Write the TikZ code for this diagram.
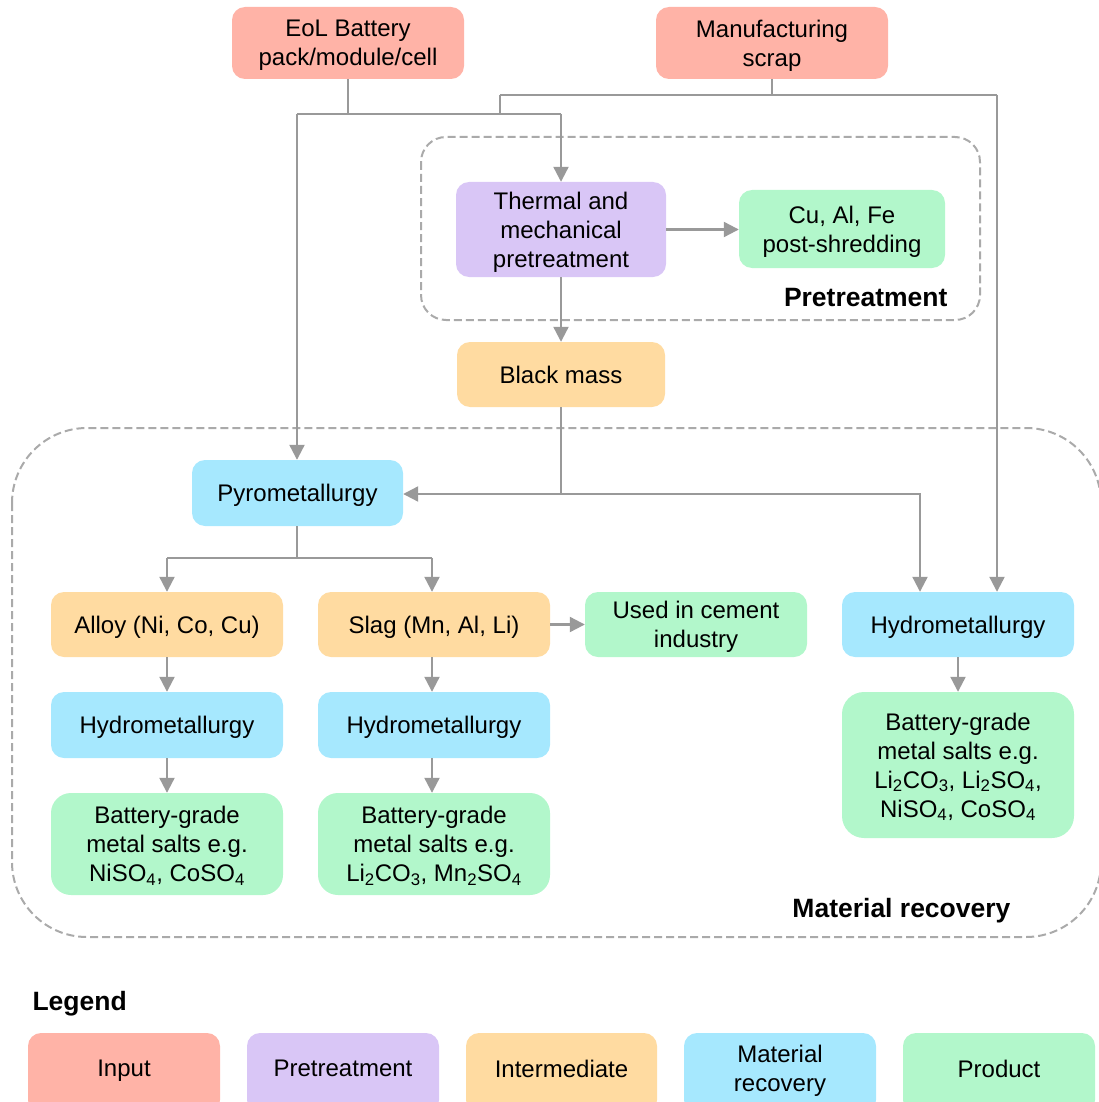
\documentclass[tikz,border=0pt]{standalone}
\usepackage{fontspec}
\setmainfont{Liberation Sans}
\usetikzlibrary{arrows.meta}
\definecolor{cin}{HTML}{FFB3A7}
\definecolor{cpre}{HTML}{D9C6F6}
\definecolor{cint}{HTML}{FFDBA1}
\definecolor{crec}{HTML}{A6E8FE}
\definecolor{cprod}{HTML}{B2F7CB}
\definecolor{cline}{HTML}{999999}
\definecolor{cdash}{HTML}{AAAAAA}
\tikzset{
  boxshape/.style={rounded corners=13pt, inner sep=0pt},
  boxtext/.style={align=center, inner sep=0pt, text depth=5pt,
    font=\fontsize{24}{29}\selectfont, text=black},
  arr/.style={draw=cline, line width=2.2pt, -{Triangle[length=15pt,width=15pt]}},
  ln/.style={draw=cline, line width=2.2pt},
  grp/.style={draw=cdash, line width=2pt, dash pattern=on 8pt off 4pt},
  grplabel/.style={font=\bfseries\fontsize{26.5}{31}\selectfont, anchor=east}
}
\newcommand{\bx}[8][13pt]{% [radius] name, color, x1, y1, x2, y2, text
  \node[boxshape, rounded corners=#1, fill=#3, minimum width={(#6)-(#4)}, minimum height={(#7)-(#5)}] (#2) at ({((#4)+(#6))/2},{((#5)+(#7))/2}) {};
  \node[boxtext] (#2-t) at ([yshift=-2.5pt]#2.center) {#8};}
\newcommand{\legbox}[5]{% name, color, x1, x2, text
  \node[boxshape, fill=#2, minimum width={(#4)-(#3)}, minimum height=80pt] (#1) at ({((#3)+(#4))/2},1073) {};
  \node[boxtext] (#1-t) at ({((#3)+(#4))/2},1071) {#5};}
\begin{document}
\begin{tikzpicture}[x=1pt,y=-1pt]
\useasboundingbox (0,0) rectangle (1099,1102);
\clip (0,0) rectangle (1099,1102);
% groups
\draw[grp, rounded corners=25pt] (421,137) rectangle (980,320);
\draw[grp, rounded corners=75pt] (12,428) rectangle (1101,937);
\node[grplabel] (lpre) at (951,298) {Pretreatment};
\node[grplabel] (lrec) at (1014,911) {Material recovery};
% nodes
\bx{eol}{cin}{232}{7}{464}{79}{EoL Battery\\pack/module/cell}
\bx{scrap}{cin}{656}{7}{888}{79}{Manufacturing\\scrap}
\bx{thermal}{cpre}{456}{182}{666}{277}{Thermal and\\mechanical\\pretreatment}
\bx{cualfe}{cprod}{739}{190}{945}{268}{Cu, Al, Fe\\post-shredding}
\bx{black}{cint}{457}{342}{665}{407}{Black mass}
\bx{pyro}{crec}{192}{460}{403}{526}{Pyrometallurgy}
\bx{alloy}{cint}{51}{592}{283}{657}{Alloy (Ni, Co, Cu)}
\bx{slag}{cint}{318}{592}{550}{657}{Slag (Mn, Al, Li)}
\bx{cement}{cprod}{585}{592}{807}{657}{Used in cement\\industry}
\bx{hydroR}{crec}{842}{592}{1074}{657}{Hydrometallurgy}
\bx{hydroL}{crec}{51}{692}{283}{758}{Hydrometallurgy}
\bx{hydroM}{crec}{318}{692}{550}{758}{Hydrometallurgy}
\bx[20pt]{batL}{cprod}{51}{793}{283}{895}{Battery-grade\\metal salts e.g.\\NiSO\textsubscript{4}, CoSO\textsubscript{4}}
\bx[20pt]{batM}{cprod}{318}{793}{550}{895}{Battery-grade\\metal salts e.g.\\Li\textsubscript{2}CO\textsubscript{3}, Mn\textsubscript{2}SO\textsubscript{4}}
\bx[22pt]{batR}{cprod}{842}{692}{1074}{838}{Battery-grade\\metal salts e.g.\\Li\textsubscript{2}CO\textsubscript{3}, Li\textsubscript{2}SO\textsubscript{4},\\NiSO\textsubscript{4}, CoSO\textsubscript{4}}
% legend
\node[font=\bfseries\fontsize{26.5}{31}\selectfont, anchor=west] (legend) at (29,1004) {Legend};
\legbox{lgin}{cin}{28}{220}{Input}
\legbox{lgpre}{cpre}{247}{439}{Pretreatment}
\legbox{lgint}{cint}{466}{657}{Intermediate}
\legbox{lgrec}{crec}{684}{876}{Material\\recovery}
\legbox{lgprod}{cprod}{903}{1095}{Product}
% connectors
\coordinate (j1) at (348,114);
\coordinate (jL) at (297,114);
\coordinate (jR) at (561,114);
\coordinate (j2) at (772,95);
\coordinate (j2L) at (500,95);
\coordinate (j2R) at (997,95);
\coordinate (j2d) at (500,114);
\coordinate (jb) at (561,494);
\coordinate (jbR) at (920,494);
\coordinate (jp) at (297,558);
\coordinate (jpL) at (167,558);
\coordinate (jpR) at (432,558);
\draw[ln] (eol.south) -- (j1);
\draw[ln] (jL) -- (jR);
\draw[arr] (jL) -- (jL |- pyro.north);
\draw[arr] (jR) -- (thermal.north);
\draw[ln] (scrap.south) -- (j2);
\draw[ln] (j2L) -- (j2R);
\draw[ln] (j2L) -- (j2d);
\draw[arr] (j2R) -- (j2R |- hydroR.north);
\draw[arr] (thermal.east) -- (cualfe.west |- thermal.east);
\draw[arr] (thermal.south) -- (black.north);
\draw[ln] (black.south) -- (jb);
\draw[arr] (jb) -- (pyro.east |- jb);
\draw[arr] (jb) -- (jbR) -- (jbR |- hydroR.north);
\draw[ln] (jp |- pyro.south) -- (jp);
\draw[ln] (jpL) -- (jpR);
\draw[arr] (jpL) -- (alloy.north);
\draw[arr] (jpR) -- (jpR |- slag.north);
\draw[arr] (slag.east) -- (cement.west);
\draw[arr] (alloy.south) -- (hydroL.north);
\draw[arr] (hydroL.south) -- (batL.north);
\draw[arr] (jpR |- slag.south) -- (jpR |- hydroM.north);
\draw[arr] (jpR |- hydroM.south) -- (jpR |- batM.north);
\draw[arr] (hydroR.south) -- (batR.north);
\end{tikzpicture}
\end{document}
